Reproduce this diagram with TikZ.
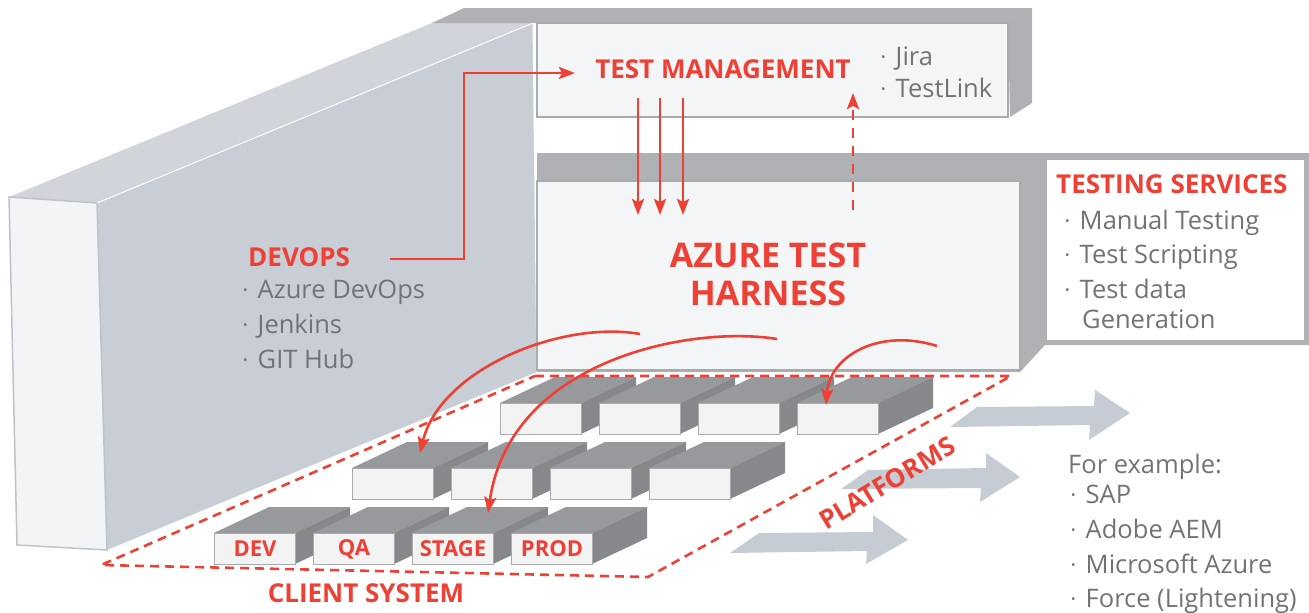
\documentclass[tikz,border=0pt]{standalone}
\usepackage{fontspec}
\setmainfont{Open Sans}
\usetikzlibrary{calc}
\usetikzlibrary{arrows.meta}

\definecolor{accent}{HTML}{EE4035}
\definecolor{txtgray}{HTML}{727376}
\definecolor{wallside}{HTML}{C9CED6}
\definecolor{walltop}{HTML}{D1D5DB}
\definecolor{wallfront}{HTML}{F3F4F5}
\definecolor{facelight}{HTML}{F4F5F7}
\definecolor{bandgray}{HTML}{B0B1B5}
\definecolor{edgegray}{HTML}{A9AAAE}
\definecolor{blocktop}{HTML}{98999D}
\definecolor{blockside}{HTML}{87888C}
\definecolor{blockfront}{HTML}{F3F3F4}
\definecolor{platarrow}{HTML}{C6CCD3}

\newcommand{\blt}{\raisebox{4pt}{\fontsize{12}{12}\selectfont\textbullet}\hspace{10pt}}

\begin{document}
\begin{tikzpicture}[x=1pt, y=-1pt,
    >={Stealth[length=16pt, width=12pt, inset=3pt]},
    flow/.style={draw=accent, line width=2.6pt, ->},
    head/.style={text=accent, inner sep=0pt, anchor=base west,
                 font=\fontsize{26}{26}\selectfont\bfseries},
    item/.style={text=txtgray, inner sep=0pt, anchor=base west,
                 font=\fontsize{25.5}{25.5}\selectfont},
    blockface/.style={draw=edgegray, fill=blockfront, line width=1pt,
                      minimum width=81pt, minimum height=31pt,
                      inner sep=0pt, anchor=north west},
    envlabel/.style={text=accent, inner sep=0pt,
                     font=\fontsize{22}{22}\selectfont\bfseries}]
  \useasboundingbox (0, 0) rectangle (1309, 613);

  % devops wall
  \fill[walltop] (9, 197) -- (432, 23) -- (533, 23) -- (97, 203) -- cycle;
  \fill[wallside] (97, 203) -- (533, 23) -- (537, 372) -- (107, 550) -- cycle;
  \draw[white, line width=1pt] (97, 203) -- (533, 23) -- (537, 372);
  \filldraw[fill=wallfront, draw=wallside!85!gray, line width=1.5pt]
    (9, 197) -- (97, 203) -- (107, 550) -- (17, 545) -- cycle;

  % test management box
  \fill[bandgray] (432, 23) -- (464, 8) -- (1032, 8) -- (1032, 103)
    -- (1010, 117) -- (1008, 23) -- cycle;
  \filldraw[fill=facelight, draw=edgegray, line width=2pt]
    (537, 23) rectangle (1008, 117);

  % harness box
  \fill[bandgray] (537, 153) -- (1309, 153) -- (1309, 345) -- (1045, 345)
    -- (1020, 372) -- (537, 372) -- cycle;
  \filldraw[fill=facelight, draw=edgegray, line width=2pt]
    (537, 181) rectangle (1020, 370);
  \fill[white] (1047, 160) rectangle (1304, 340);

  % blocks
  \foreach \r/\bx/\by in {1/500/403, 2/352/468, 3/214/533}{
    \foreach \c in {0, 1, 2, 3}{
      \begin{scope}[shift={(\bx+99*\c, \by)}]
        \fill[blocktop] (0, 0) -- (55, -26) -- (136, -26) -- (81, 0) -- cycle;
        \fill[blockside] (81, 0) -- (136, -26) -- (136, 5) -- (81, 31) -- cycle;
        \node[blockface] (blk\r\c) at (0, 0) {};
      \end{scope}
    }
  }
  \foreach \c/\lbl in {0/DEV, 1/QA, 2/STAGE, 3/PROD}{
    \node[envlabel] (env\c) at (blk3\c) {\lbl};
  }

  % client system
  \draw[accent, line width=2.6pt, dash pattern=on 9pt off 6pt]
    (535, 376) -- (1011, 376) -- (648, 577) -- (101, 565) -- cycle;
  \node[head, anchor=base] (client) at (366, 602) {CLIENT SYSTEM};

  % platforms
  \fill[platarrow] (950, 427) -- (977, 407) -- (1094, 406) -- (1095, 390)
    -- (1130, 413) -- (1089, 440) -- (1090, 425) -- cycle;
  \fill[platarrow] (841, 489) -- (868, 470) -- (986, 468) -- (986, 453)
    -- (1020, 477) -- (980, 502) -- (981, 488) -- cycle;
  \fill[platarrow] (730, 553) -- (759, 533) -- (873, 532) -- (873, 515)
    -- (908, 540) -- (866, 564) -- (867, 551) -- cycle;
  \node[head, anchor=center, rotate=31, font=\fontsize{26}{26}\selectfont\bfseries]
    (plat) at (887, 483) {PLATFORMS};

  % labels
  \node[head, anchor=base] (tm) at (723, 78) {TEST MANAGEMENT};
  \node[item] (jira) at (881, 65) {\blt Jira};
  \node[item] (testlink) at (881, 97) {\blt TestLink};

  \node[head, anchor=base, font=\fontsize{34}{34}\selectfont\bfseries]
    (harness1) at (768, 267) {AZURE TEST};
  \node[head, anchor=base, font=\fontsize{34}{34}\selectfont\bfseries]
    (harness2) at (768, 305) {HARNESS};

  \node[head] (services) at (1056, 193) {TESTING SERVICES};
  \node[item] (svc1) at (1065, 229) {\blt Manual Testing};
  \node[item] (svc2) at (1065, 263) {\blt Test Scripting};
  \node[item] (svc3) at (1065, 298) {\blt Test data};
  \node[item] (svc4) at (1082, 328) {Generation};

  \node[head] (devops) at (248, 266) {DEVOPS};
  \node[item] (dev1) at (243, 298) {\blt Azure DevOps};
  \node[item] (dev2) at (243, 333) {\blt Jenkins};
  \node[item] (dev3) at (243, 368) {\blt GIT Hub};

  \node[item] (example) at (1068, 473) {For example:};
  \node[item] (pf1) at (1071, 503) {\blt SAP};
  \node[item] (pf2) at (1071, 538) {\blt Adobe AEM};
  \node[item] (pf3) at (1071, 573) {\blt Microsoft Azure};
  \node[item] (pf4) at (1071, 607) {\blt Force (Lightening)};

  % flows
  \coordinate (devout) at (390, 259);
  \coordinate (tmin) at (575, 73);
  \draw[flow] (devout) -- ++(74, 0) |- (tmin);
  \foreach \x [count=\i] in {638, 660, 683}{
    \coordinate (from\i) at (\x, 98);
    \coordinate (to\i) at (\x, 215);
    \draw[flow] (from\i) -- (to\i);
  }
  \coordinate (report0) at (853, 210);
  \coordinate (report1) at (853, 93);
  \draw[flow, dash pattern=on 10pt off 8pt] (report0) -- (report1);

  \coordinate (s1) at (640, 334);
  \coordinate (s2) at (777, 339);
  \coordinate (s3) at (937, 346);
  \coordinate (t1) at (420, 453);
  \coordinate (t2) at (488, 513);
  \coordinate (t3) at (826, 405);
  \draw[flow] (s1) .. controls (560, 320) and (440, 370) .. (t1);
  \draw[flow] (s2) .. controls (690, 325) and (510, 360) .. (t2);
  \draw[flow] (s3) .. controls (880, 328) and (830, 355) .. (t3);
\end{tikzpicture}
\end{document}
